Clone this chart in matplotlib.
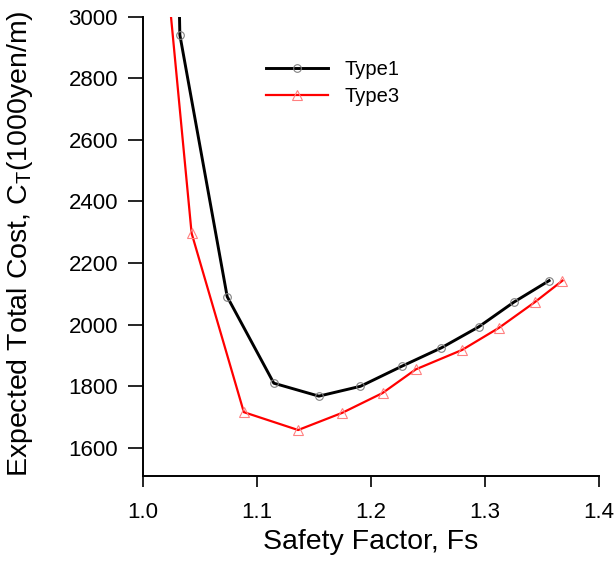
import matplotlib
matplotlib.use("Agg")
import matplotlib.pyplot as plt

plt.rcParams['font.family'] = ['Liberation Sans', 'DejaVu Sans']

# Type1 (first point lies above the plotted range, clipped at the top)
fs_type1 = [1.031, 1.0324, 1.0739, 1.1148, 1.1543, 1.1908, 1.227, 1.2618, 1.2945, 1.3252, 1.3562]
ct_type1 = [3200, 2941, 2091, 1810, 1768, 1800, 1865, 1925, 1993, 2073, 2143]

# Type3
fs_type3 = [1.020, 1.0427, 1.0885, 1.1361, 1.1749, 1.2101, 1.2393, 1.2799, 1.3123, 1.3436, 1.3679]
ct_type3 = [3180, 2297, 1716, 1658, 1714, 1778, 1855, 1918, 1990, 2073, 2143]

fig = plt.figure(figsize=(6.16, 5.8), dpi=100)
ax = fig.add_axes([0.232, 0.18, 0.7405, 0.7912])

ax.plot(fs_type1, ct_type1, '-', color='black', lw=2.1,
        marker='o', ms=5.5, mfc='none', mec='#808080', mew=0.8, label='Type1')
ax.plot(fs_type3, ct_type3, '-', color='#ff0000', lw=1.6,
        marker='^', ms=7.5, mfc='none', mec='#ff8080', mew=0.8, label='Type3')

ax.set_xlim(1.0, 1.4)
ax.set_ylim(1510, 3000)
ax.set_xticks([1.0, 1.1, 1.2, 1.3, 1.4])
ax.set_yticks([1600, 1800, 2000, 2200, 2400, 2600, 2800, 3000])
ax.tick_params(axis='x', direction='out', length=8, width=1.2, labelsize=16, pad=11)
ax.tick_params(axis='y', direction='out', length=11, width=1.2, labelsize=16, pad=7)

for s in ['top', 'right']:
    ax.spines[s].set_visible(False)
for s in ['left', 'bottom']:
    ax.spines[s].set_linewidth(1.4)

ax.set_xlabel('Safety Factor, Fs', fontsize=20.5)
ax.set_ylabel('Expected Total Cost, C$_\\mathregular{T}$(1000yen/m)', fontsize=20.5)
ax.xaxis.set_label_coords(0.5, -0.117)
ax.yaxis.set_label_coords(-0.236, 0.505)

ax.legend(loc='upper left', bbox_to_anchor=(0.23, 0.945), frameon=False,
          fontsize=14.5, handlelength=3.1, handletextpad=0.8, labelspacing=0.4)

fig.savefig('out.png', dpi=100)
